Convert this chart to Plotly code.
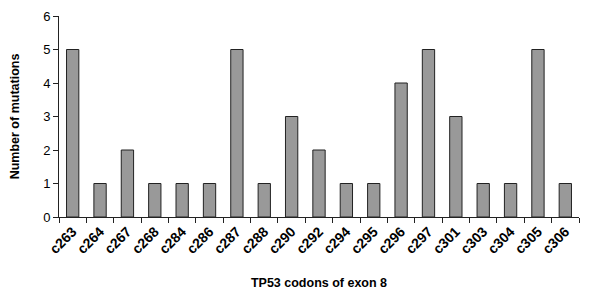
import plotly.graph_objects as go

codons = ["c263", "c264", "c267", "c268", "c284", "c286", "c287", "c288", "c290", "c292",
          "c294", "c295", "c296", "c297", "c301", "c303", "c304", "c305", "c306"]
mutations = [5, 1, 2, 1, 1, 1, 5, 1, 3, 2, 1, 1, 4, 5, 3, 1, 1, 5, 1]

# page body has an 8px margin; compensate so the figure fills the window
fig = go.Figure(go.Bar(
    x=codons, y=mutations,
    marker=dict(color="#999999", line=dict(color="#222222", width=1)),
    width=0.45,
))

fig.update_layout(
    width=583, height=284,
    margin=dict(l=51, r=12, t=8, b=75),
    paper_bgcolor="white", plot_bgcolor="white",
    showlegend=False,
    font=dict(family="Liberation Sans, Arial, sans-serif", color="#000000"),
)
fig.update_xaxes(
    type="category", automargin=False,
    showline=True, linecolor="#222222", linewidth=1,
    ticks="outside", tickson="boundaries", ticklen=5, tickcolor="#222222",
    tickangle=-45,
    tickfont=dict(size=14, family="Liberation Sans, Arial, sans-serif", weight="bold", color="#000000"),
    title=dict(text="<b>TP53 codons of exon 8</b>", font=dict(size=12.5), standoff=22),
    showgrid=False,
)
fig.update_yaxes(
    range=[0, 6], dtick=1, automargin=False,
    showline=True, linecolor="#222222", linewidth=1,
    ticks="outside", ticklen=5, tickcolor="#222222",
    tickfont=dict(size=13, color="#000000"),
    title=dict(text="<b>Number of mutations</b>", font=dict(size=12.5), standoff=23),
    showgrid=False, zeroline=False,
)

fig.write_html("out.html")
